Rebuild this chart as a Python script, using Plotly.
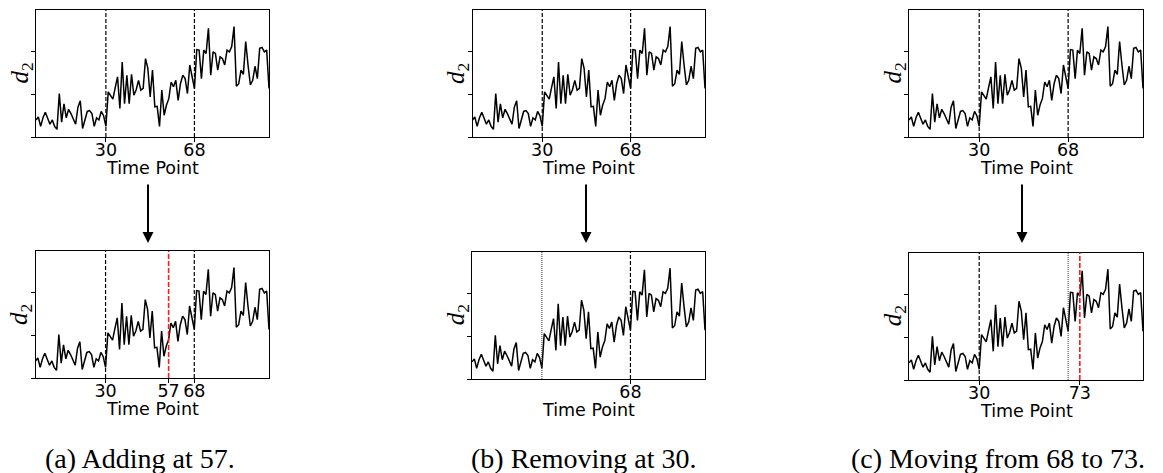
import plotly.graph_objects as go

W, H = 1163, 473

# ---------------- data ----------------
time = list(range(101))
d2 = [
    0.40, 0.47, 0.25, 0.45, 0.58, 0.45, 0.30, 0.40, 0.25, 0.18,
    1.02, 0.35, 0.78, 0.45, 0.65, 0.55, 0.40, 0.30, 0.70, 0.85,
    0.20, 0.40, 0.60, 0.62, 0.55, 0.25, 0.45, 0.40, 0.60, 0.50,
    0.25,
    1.06, 0.98, 0.89, 1.16, 1.41, 0.67, 1.76, 0.78, 1.45, 0.78,
    1.47, 0.98, 1.11, 1.33, 1.10, 1.14, 1.84, 1.61, 0.94, 1.57,
    0.71, 0.72, 0.25, 1.10, 0.51, 0.75, 0.90, 1.29, 1.18, 1.33,
    0.86, 1.25, 1.45, 1.37, 1.02, 1.69, 1.41, 1.14,
    2.05, 2.04, 1.37, 2.04, 1.96, 2.55, 1.45, 2.00, 1.96, 1.57,
    1.88, 1.84, 1.69, 2.04, 2.00, 2.12, 2.59, 1.19, 1.25, 1.57,
    1.47, 2.24, 1.69, 1.22, 1.33, 1.66, 1.37, 2.08, 2.10, 2.00,
    2.04, 1.14,
]

original_cps = [30, 68]
# per panel: (dashed black cps, dotted (removed) cps, red (new) cps, tick labels)
panels = {
    "a_top": ([30, 68], [], [], [30, 68]),
    "b_top": ([30, 68], [], [], [30, 68]),
    "c_top": ([30, 68], [], [], [30, 68]),
    "a_bot": ([30, 68], [], [57], [30, 57, 68]),
    "b_bot": ([68], [30], [], [68]),
    "c_bot": ([30], [68], [73], [30, 73]),
}
captions = ["(a) Adding at 57.", "(b) Removing at 30.", "(c) Moving from 68 to 73."]

y_range = [0, 2.98]
y_ticks = [0, 1, 2]

# ---------------- layout (pixel boxes) ----------------
boxes = {
    "a_top": (36, 269, 10, 137),
    "b_top": (472.5, 705, 10, 137),
    "c_top": (909, 1143, 10, 137),
    "a_bot": (35.5, 269, 251, 378),
    "b_bot": (472, 705, 251.5, 379),
    "c_bot": (909, 1143, 252.5, 380),
}
arrow_x = [148, 586, 1022]
caption_x = [140, 584, 998]


def px_x(v):
    return v / W


def px_y(v):
    return 1 - v / H


fig = go.Figure()
layout = dict(
    width=W, height=H,
    margin=dict(l=0, r=0, t=0, b=0),
    paper_bgcolor="white", plot_bgcolor="white",
    showlegend=False,
)
shapes = []
annotations = []

tick_font = dict(family="DejaVu Sans", size=17.5, color="black")

for i, (name, (cps, dotted, red, ticks)) in enumerate(panels.items(), start=1):
    xa = "xaxis" if i == 1 else f"xaxis{i}"
    ya = "yaxis" if i == 1 else f"yaxis{i}"
    xr = "x" if i == 1 else f"x{i}"
    yr = "y" if i == 1 else f"y{i}"
    x0, x1, y0, y1 = boxes[name]
    fig.add_trace(go.Scatter(
        x=time, y=d2, mode="lines",
        line=dict(color="black", width=1.5),
        xaxis=xr, yaxis=yr, hoverinfo="skip",
    ))
    layout[xa] = dict(
        domain=[px_x(x0), px_x(x1)], anchor=yr,
        range=[time[0], time[-1]],
        tickmode="array", tickvals=ticks, ticktext=[str(t) for t in ticks],
        ticks="outside", ticklen=4, tickwidth=1, tickcolor="black",
        tickfont=tick_font, ticklabelstandoff=-7,
        showline=True, linecolor="black", linewidth=1, mirror=True,
        showgrid=False, zeroline=False,
    )
    layout[ya] = dict(
        domain=[px_y(y1), px_y(y0)], anchor=xr,
        range=y_range,
        tickmode="array", tickvals=y_ticks, showticklabels=False,
        ticks="outside", ticklen=4, tickwidth=1, tickcolor="black",
        showline=True, linecolor="black", linewidth=1, mirror=True,
        showgrid=False, zeroline=False,
    )
    for cp in cps:
        shapes.append(dict(type="line", xref=xr, yref=f"{yr} domain",
                           x0=cp, x1=cp, y0=0, y1=1,
                           line=dict(color="black", width=1.2, dash="4px,2px")))
    for cp in dotted:
        shapes.append(dict(type="line", xref=xr, yref=f"{yr} domain",
                           x0=cp, x1=cp, y0=0, y1=1,
                           line=dict(color="#333333", width=1, dash="1px,1px")))
    for cp in red:
        shapes.append(dict(type="line", xref=xr, yref=f"{yr} domain",
                           x0=cp, x1=cp, y0=0, y1=1,
                           line=dict(color="#ff1a1a", width=1.6, dash="5px,2px")))
    # y label
    annotations.append(dict(
        text="<i>d</i><sub>2</sub>", xref="paper", yref="paper",
        x=px_x(x0 - 15), y=px_y((y0 + y1) / 2), showarrow=False,
        textangle=-90, xanchor="center", yanchor="middle",
        font=dict(family="Liberation Serif", size=25, color="black"),
    ))
    # x label
    annotations.append(dict(
        text="Time Point", xref="paper", yref="paper",
        x=px_x((x0 + x1) / 2), y=px_y(y1 + 31), showarrow=False,
        xanchor="center", yanchor="middle",
        font=dict(family="DejaVu Sans", size=17.5, color="black"),
    ))

# arrows between rows
for ax in arrow_x:
    annotations.append(dict(
        x=px_x(ax), y=px_y(243), xref="paper", yref="paper",
        ax=0, ay=-60, axref="pixel", ayref="pixel",
        showarrow=True, arrowhead=2, arrowsize=1.1, arrowwidth=2,
        arrowcolor="black", text="",
    ))

# captions
for cx, cap in zip(caption_x, captions):
    annotations.append(dict(
        text=cap, xref="paper", yref="paper",
        x=px_x(cx), y=px_y(458), showarrow=False,
        xanchor="center", yanchor="middle",
        font=dict(family="Liberation Serif", size=28, color="black"),
    ))

layout["shapes"] = shapes
layout["annotations"] = annotations
fig.update_layout(**layout)
fig.write_html("out.html")
